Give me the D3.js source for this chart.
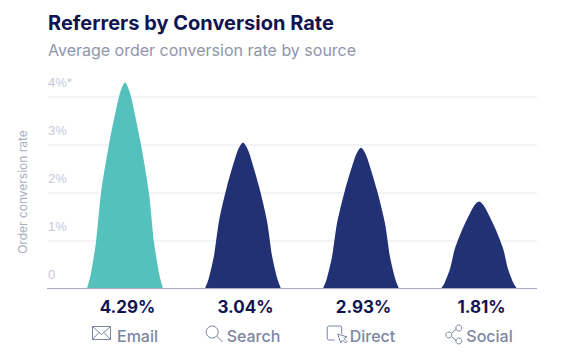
<!DOCTYPE html>
<html lang="en">
  <head>
    <meta charset="UTF-8" />
    <title>Referrers by Conversion Rate</title>
    <script src="https://d3js.org/d3.v7.min.js"></script>
    <style>
      html, body {
        margin: 0;
        background: #fff;
        overflow: hidden;
      }
      svg {
        display: block;
        font-family: Inter, "Open Sans", sans-serif;
      }
      .tick text {
        fill: #c5c9d6;
        font-size: 13px;
      }
      .grid line {
        stroke: #e6e8ef;
      }
    </style>
  </head>
  <body>
    <svg id="chart" width="562" height="359"></svg>

    <script>
      const sources = ["Email", "Search", "Direct", "Social"];
      const rates = [4.29, 3.04, 2.93, 1.81];
      const rateLabels = ["4.29%", "3.04%", "2.93%", "1.81%"];
      const barColors = ["#55c1bd", "#223174", "#223174", "#223174"];
      const yTicks = [0, 1, 2, 3, 4];
      const yTickLabels = ["0", "1%", "2%", "3%", "4%*"];

      // outline of one peak: share of half width, share of height
      const peakWidth = [0, 0.1, 0.24, 0.37, 0.58, 0.84, 1];
      const peakHeight = [0, 0.07, 0.23, 0.465, 0.7, 0.93, 1];

      const svg = d3.select("#chart");

      const x = d3.scalePoint().domain(sources).range([125, 479]);
      const y = d3.scaleLinear().domain([0, 4]).range([288.5, 96.5]);
      const halfBase = 38;

      svg
        .append("text")
        .attr("x", 48)
        .attr("y", 30)
        .attr("fill", "#10144f")
        .style("font-size", "20px")
        .style("font-weight", 700)
        .text("Referrers by Conversion Rate");

      svg
        .append("text")
        .attr("x", 48)
        .attr("y", 56)
        .attr("fill", "#8e95ab")
        .style("font-size", "16px")
        .text("Average order conversion rate by source");

      svg
        .append("text")
        .attr("transform", "translate(27, 192) rotate(-90)")
        .attr("text-anchor", "middle")
        .attr("fill", "#a9afc2")
        .style("font-size", "12px")
        .text("Order conversion rate");

      // gridlines and y labels come from the axis, labels sit above their line
      const grid = svg
        .append("g")
        .attr("class", "grid")
        .attr("transform", "translate(48, 0)")
        .call(
          d3
            .axisRight(y)
            .tickValues(yTicks)
            .tickSize(489)
            .tickFormat((d, i) => yTickLabels[i])
        );
      grid.select(".domain").remove();
      grid
        .selectAll(".tick text")
        .attr("x", 0)
        .attr("dy", -10);

      const area = d3
        .area()
        .x((p) => p.x)
        .y0(y(0))
        .y1((p) => p.y)
        .curve(d3.curveCardinal.tension(0.3));

      sources.forEach((s, i) => {
        const left = peakWidth.map((w, j) => ({
          x: x(s) - halfBase * (1 - w),
          y: y(rates[i] * peakHeight[j]),
        }));
        const right = left
          .slice(0, -1)
          .reverse()
          .map((p) => ({ x: 2 * x(s) - p.x, y: p.y }));
        svg
          .append("path")
          .attr("d", area(left.concat(right)))
          .attr("fill", barColors[i]);
      });

      svg
        .append("line")
        .attr("x1", 47)
        .attr("x2", 537)
        .attr("y1", y(0))
        .attr("y2", y(0))
        .attr("stroke", "#a7abc4")
        .attr("stroke-width", 1.2);

      // small line icons, drawn around a 0,0 origin at the left of each label
      const icons = {
        Email: "M0.5 -14.5h18v13h-18zM0.5 -14.5l9 8 9 -8M0.5 -1.5l6.5 -7M18.5 -1.5l-6.5 -7",
        Search: "M6.5 -15a6 6 0 1 0 0.01 0M11 -5l6 6",
        Direct: "M8 -1H2.5a2 2 0 0 1 -2 -2V-13a2 2 0 0 1 2 -2H13a2 2 0 0 1 2 2V-7M11 -7l3 9 1.7 -3 3 3 1.5 -1.5 -3 -3 3 -1.6z",
        Social: "M3.5 -9a3 3 0 1 0 0.01 0M13.5 -16a3 3 0 1 0 0.01 0M13.5 -3a3 3 0 1 0 0.01 0M6 -7.5l5.3 -4.5M6 -4.5l5.3 4",
      };
      const iconWidth = { Email: 19, Search: 17, Direct: 20, Social: 17 };
      const iconGap = { Email: 6, Search: 4, Direct: 3, Social: 4 };

      sources.forEach((s, i) => {
        svg
          .append("text")
          .attr("x", x(s) + 2.5)
          .attr("y", 313)
          .attr("text-anchor", "middle")
          .attr("fill", "#10144f")
          .style("font-size", "17px")
          .style("font-weight", 700)
          .text(rateLabels[i]);

        const name = svg
          .append("text")
          .attr("y", 342)
          .attr("fill", "#7d86a1")
          .style("font-size", "16px")
          .style("font-weight", 500)
          .text(s);
        const w = name.node().getComputedTextLength();
        const total = iconWidth[s] + iconGap[s] + w;
        const start = x(s) - total / 2;
        name.attr("x", start + iconWidth[s] + iconGap[s]);

        svg
          .append("path")
          .attr("transform", `translate(${start}, 341)`)
          .attr("d", icons[s])
          .attr("fill", "none")
          .attr("stroke", "#7d86a1")
          .attr("stroke-width", 1);
      });
    </script>
  </body>
</html>
